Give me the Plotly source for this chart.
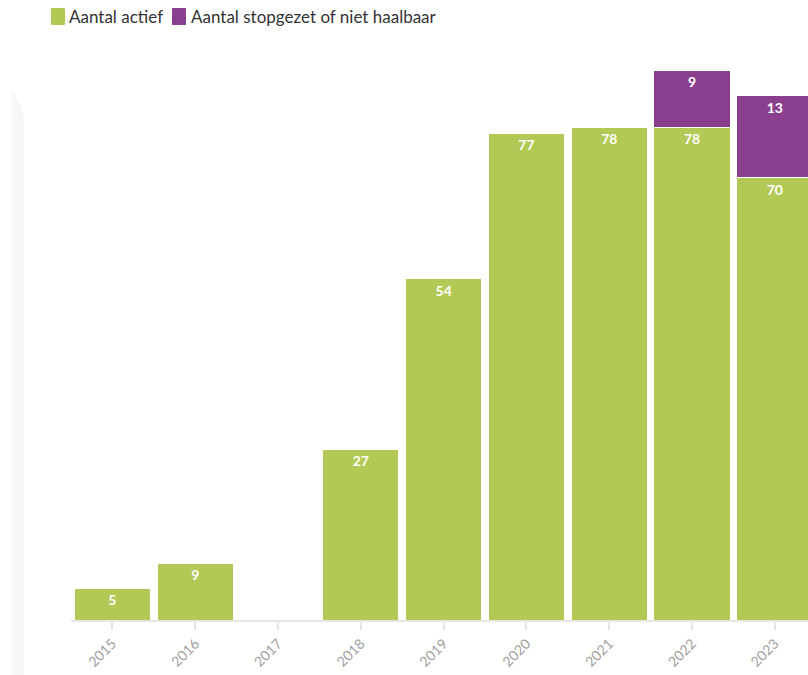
import plotly.graph_objects as go

years = ["2015", "2016", "2017", "2018", "2019", "2020", "2021", "2022", "2023"]
actief = [5, 9, None, 27, 54, 77, 78, 78, 70]
stopgezet = [None, None, None, None, None, None, None, 9, 13]
names = ["Aantal actief", "Aantal stopgezet of niet haalbaar"]

GREEN = "#b3c955"
PURPLE = "#8a3f8e"
FONT = "Lato, Open Sans, sans-serif"

# the page body margin is removed (post_script), so figure pixels = window pixels
W, H = 808, 675
ML, MR, MT, MB = 71, 0, 50, 55
PW, PH = W - ML - MR, H - MT - MB


def px(x):
    return (x - ML) / PW


def py(y):
    return (H - MB - y) / PH


fig = go.Figure()
for name, vals, col in [(names[0], actief, GREEN), (names[1], stopgezet, PURPLE)]:
    fig.add_trace(go.Bar(
        x=list(range(len(years))), y=vals, name=name,
        marker=dict(color=col, line=dict(color="white", width=1)),
        width=0.92,
        text=[("" if v is None else str(v)) for v in vals],
        textposition="inside", insidetextanchor="end",
        textfont=dict(family=FONT, size=14, color="white", weight="bold"),
        constraintext="none", cliponaxis=True, hoverinfo="skip",
        showlegend=False,
    ))

# faint panel edge on the left
fig.add_shape(type="path", xref="paper", yref="paper",
              path=f"M {px(12)} -0.2 L {px(12)} {py(90)} Q {px(19)} {py(98)} {px(24)} {py(118)} L {px(24)} -0.2 Z",
              fillcolor="#f7f7f7", line=dict(width=0), layer="below")

# custom legend
legend_items = [(names[0], GREEN, 51, 68), (names[1], PURPLE, 172, 190)]
for label, col, sx, tx in legend_items:
    fig.add_shape(type="rect", xref="paper", yref="paper",
                  x0=px(sx + 0.5), x1=px(sx + 13.5), y0=py(24.5), y1=py(8.5),
                  fillcolor=col, line=dict(color=col, width=1))
    fig.add_annotation(xref="paper", yref="paper", x=px(tx), y=py(16.5),
                       xanchor="left", yanchor="middle", text=label, showarrow=False,
                       font=dict(family=FONT, size=17, color="#333333"), borderpad=0)

fig.update_layout(
    width=W, height=H, barmode="stack", bargap=0.08,
    margin=dict(l=ML, r=MR, t=MT, b=MB),
    paper_bgcolor="white", plot_bgcolor="white",
    font=dict(family=FONT, color="#333333"),
    showlegend=False,
    xaxis=dict(tickmode="array", tickvals=list(range(len(years))), ticktext=years,
               range=[-0.5, 8.4], tickangle=-45, showgrid=False, automargin=False,
               showline=True, linecolor="#e6e6e6", linewidth=2,
               ticks="outside", ticklen=8, tickcolor="#e6e6e6", tickwidth=2,
               tickfont=dict(family=FONT, size=14, color="#a0a0a0"), zeroline=False),
    yaxis=dict(range=[0, 90.2], visible=False, showgrid=False, zeroline=False),
)

fig.write_html("out.html", config={"displayModeBar": False},
               post_script="document.body.style.margin='0';document.body.style.overflow='hidden';")
